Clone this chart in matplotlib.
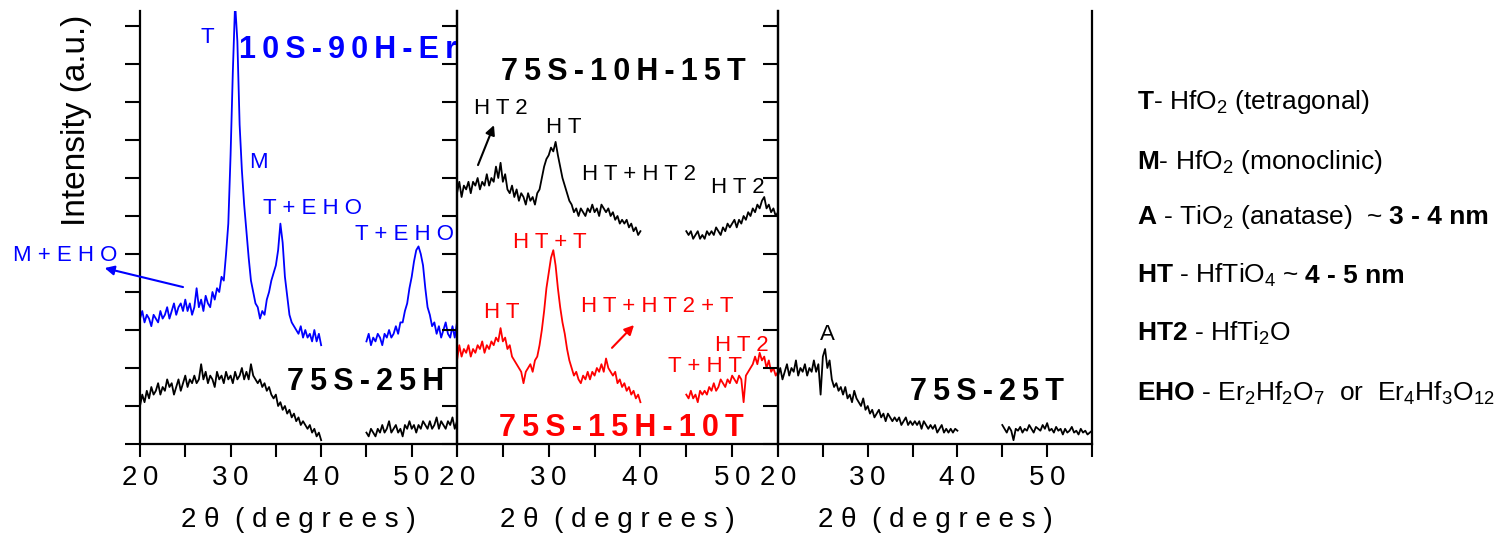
import numpy as np
import matplotlib.pyplot as plt

plt.rcParams['font.family'] = ['Liberation Sans', 'DejaVu Sans']
plt.rcParams['mathtext.fontset'] = 'custom'
plt.rcParams['mathtext.rm'] = 'Liberation Sans'
plt.rcParams['mathtext.bf'] = 'Liberation Sans:bold'
plt.rcParams['mathtext.default'] = 'regular'

# ---- data (arbitrary intensity units, 1 unit = 1 tick) ----
# sample 10S-90H-Er (blue), panel 1
er_lo = [3.3, 3.5, 3.2, 3.4, 3.3, 3.1, 3.4, 3.3, 3.2, 3.5, 3.3, 3.4, 3.6, 3.3, 3.5, 3.7,
         3.4, 3.6, 3.7, 3.5, 3.8, 3.5, 3.7, 3.4, 3.6, 4.1, 3.6, 3.8, 3.5, 3.9, 3.7, 3.6,
         4.0, 3.8, 4.1, 4.0, 4.4, 4.3, 5.0, 5.8, 7.6, 9.8, 11.6, 10.6, 8.4, 7.2, 6.3, 5.6,
         4.9, 4.3, 4.0, 3.7, 3.6, 3.3, 3.5, 3.4, 3.8, 4.0, 4.3, 4.5, 4.7, 5.1, 5.8, 5.3,
         4.4, 3.9, 3.4, 3.2, 3.1, 3.0, 2.9, 3.1, 2.8, 3.0, 2.8, 2.9, 2.7, 3.0, 2.7, 2.9, 2.6]
er_hi = [2.7, 2.9, 2.6, 2.8, 2.7, 2.9, 2.8, 2.6, 2.9, 2.8, 3.0, 2.8, 2.9, 3.1, 2.9, 3.2,
         3.2, 3.5, 3.7, 4.1, 4.4, 4.8, 5.1, 5.2, 5.0, 4.7, 4.1, 3.6, 3.4, 3.1, 3.2, 2.9,
         3.1, 2.8, 3.0, 3.2, 2.9, 2.8, 3.1, 2.8, 3.2]

# sample 75S-25H (black), panel 1
h25_lo = [1.0, 1.3, 1.1, 1.4, 1.2, 1.5, 1.3, 1.4, 1.6, 1.3, 1.5, 1.4, 1.7, 1.5, 1.6, 1.3,
          1.5, 1.7, 1.4, 1.6, 1.8, 1.5, 1.7, 1.6, 1.8, 1.6, 1.7, 2.1, 1.7, 1.9, 1.6, 1.8,
          1.7, 1.5, 1.9, 1.7, 1.8, 1.6, 1.9, 1.7, 1.8, 1.6, 1.9, 1.7, 1.8, 2.0, 1.7, 1.9,
          1.7, 2.1, 1.8, 1.7, 1.6, 1.7, 1.5, 1.6, 1.4, 1.5, 1.3, 1.2, 1.3, 1.0, 1.1, 0.9,
          1.0, 0.8, 0.9, 0.7, 0.8, 0.6, 0.7, 0.5, 0.6, 0.5, 0.4, 0.5, 0.3, 0.4, 0.2, 0.3, 0.1]
h25_hi = [0.3, 0.2, 0.4, 0.3, 0.2, 0.4, 0.3, 0.5, 0.3, 0.4, 0.6, 0.3, 0.4, 0.5, 0.3, 0.4,
          0.2, 0.5, 0.4, 0.6, 0.4, 0.5, 0.3, 0.5, 0.4, 0.6, 0.5, 0.4, 0.6, 0.4, 0.5, 0.7,
          0.4, 0.6, 0.5, 0.4, 0.6, 0.5, 0.7, 0.4, 0.6]

# sample 75S-10H-15T (black), panel 2
t15_lo = [6.6, 6.9, 6.5, 6.8, 6.7, 6.9, 6.6, 6.9, 6.8, 7.0, 6.7, 6.9, 6.8, 7.1, 6.8, 7.0,
          6.9, 7.3, 7.0, 7.4, 6.9, 7.1, 6.7, 6.6, 6.8, 6.5, 6.7, 6.4, 6.6, 6.5, 6.3, 6.6,
          6.4, 6.5, 6.3, 6.6, 6.7, 7.0, 7.3, 7.5, 7.6, 7.8, 7.7, 7.95, 7.6, 7.3, 7.0, 6.8,
          6.6, 6.4, 6.3, 6.1, 6.2, 6.0, 6.2, 6.1, 6.0, 6.2, 6.1, 6.3, 6.1, 6.2, 6.0, 6.3,
          6.2, 6.1, 6.2, 6.0, 6.1, 5.9, 6.0, 5.8, 5.9, 5.8, 5.9, 5.7, 5.8, 5.6, 5.7, 5.5, 5.6]
t15_hi = [5.6, 5.5, 5.6, 5.4, 5.5, 5.6, 5.4, 5.5, 5.4, 5.6, 5.5, 5.6, 5.5, 5.7, 5.6, 5.5,
          5.7, 5.6, 5.8, 5.7, 5.8, 5.9, 5.7, 5.9, 5.8, 6.0, 5.9, 6.1, 6.0, 6.2, 6.1, 6.3,
          6.2, 6.4, 6.5, 6.2, 6.3, 6.1, 6.2, 6.0, 6.1]

# sample 75S-15H-10T (red), panel 2
t10_lo = [2.2, 2.6, 2.3, 2.5, 2.4, 2.6, 2.3, 2.5, 2.4, 2.6, 2.5, 2.7, 2.4, 2.6, 2.5, 2.7,
          2.6, 2.8, 2.7, 3.05, 2.7, 2.8, 2.5, 2.6, 2.3, 2.2, 2.1, 2.0, 1.9, 1.6, 1.9, 2.0,
          2.1, 1.9, 2.2, 2.3, 2.6, 3.0, 3.5, 4.1, 4.5, 4.9, 5.1, 4.7, 4.1, 3.6, 3.2, 2.9,
          2.5, 2.2, 2.0, 1.8, 1.9, 1.7, 1.6, 1.8, 1.7, 1.9, 1.7, 1.9, 1.8, 2.0, 1.9, 2.1,
          1.9, 2.25, 2.0, 1.9, 1.8, 1.9, 1.6, 1.7, 1.5, 1.6, 1.4, 1.5, 1.3, 1.4, 1.2, 1.3, 1.1]
t10_hi = [1.3, 1.2, 1.4, 1.2, 1.3, 1.1, 1.4, 1.3, 1.4, 1.3, 1.5, 1.4, 1.6, 1.4, 1.5, 1.7,
          1.6, 1.5, 1.7, 1.6, 1.8, 1.7, 1.6, 1.8, 1.7, 1.1, 1.8, 1.9, 2.0, 2.1, 2.3, 2.1,
          2.4, 2.2, 2.3, 2.0, 2.2, 1.9, 2.0, 1.8, 1.9]

# sample 75S-25T (black), panel 3
t25_lo = [1.8, 2.0, 1.7, 1.9, 2.1, 1.8, 2.0, 1.9, 2.2, 1.8, 2.0, 1.9, 2.1, 1.8, 2.0, 1.9,
          2.2, 1.9, 2.1, 1.3, 2.3, 2.5, 2.0, 2.2, 1.7, 1.5, 1.6, 1.4, 1.5, 1.3, 1.5, 1.2,
          1.3, 1.1, 1.4, 1.2, 1.1, 1.0, 1.2, 0.9, 1.0, 0.8, 0.9, 0.7, 0.8, 0.9, 0.7, 0.8,
          0.6, 0.8, 0.7, 0.6, 0.7, 0.6, 0.7, 0.5, 0.6, 0.7, 0.5, 0.6, 0.5, 0.6, 0.5, 0.6,
          0.4, 0.6, 0.5, 0.4, 0.5, 0.4, 0.5, 0.3, 0.4, 0.5, 0.3, 0.4, 0.3, 0.4, 0.3, 0.4, 0.35]
t25_hi = [0.5, 0.4, 0.3, 0.45, 0.35, 0.1, 0.4, 0.35, 0.45, 0.3, 0.4, 0.35, 0.5, 0.4, 0.3,
          0.45, 0.4, 0.35, 0.5, 0.4, 0.55, 0.35, 0.4, 0.3, 0.45, 0.35, 0.4, 0.25, 0.4, 0.3,
          0.35, 0.45, 0.3, 0.35, 0.25, 0.4, 0.3, 0.35, 0.25, 0.3, 0.35]

tick_pos = [20, 25, 30, 35, 40, 45, 50, 55]
tick_txt = ['20', '', '30', '', '40', '', '50', '']

BLUE = '#0000ff'
RED = '#ff0000'
TS = '\u2009'  # thin space, the original uses wide letter spacing


def spaced(s, sep=TS):
    return sep.join(s)


W, H = 1504, 533
top, bot = 11, 444
panels = [(140, 457), (457, 778), (778, 1092)]

fig = plt.figure(figsize=(W / 100, H / 100), dpi=100)
axs = []
for l, r in panels:
    ax = fig.add_axes([l / W, 1 - bot / H, (r - l) / W, (bot - top) / H])
    ax.set_xlim(20, 55)
    ax.set_ylim(0, (bot - top) / 38)
    ax.set_yticks(range(12))
    ax.tick_params(axis='y', left=True, right=False, direction='out', length=11,
                   width=1.5, labelleft=False)
    ax.set_xticks(tick_pos)
    ax.set_xticklabels([spaced(t) for t in tick_txt])
    ax.tick_params(axis='x', direction='out', length=9, width=1.5, labelsize=20, pad=6)
    ax.spines['top'].set_visible(False)
    for s in ['left', 'right', 'bottom']:
        ax.spines[s].set_linewidth(1.6)
    ax.set_xlabel(spaced('2θ', ' ') + '  ' + spaced('(degrees)', ' '), fontsize=20)
    ax.xaxis.set_label_coords(0.5, -0.145)
    ax.patch.set_visible(False)
    axs.append(ax)

ax1, ax2, ax3 = axs


def draw(ax, lo, hi, color):
    ax.plot(np.linspace(20, 40, len(lo)), lo, color=color, lw=1.3)
    ax.plot(np.linspace(45, 55, len(hi)), hi, color=color, lw=1.3)


draw(ax1, er_lo, er_hi, BLUE)
draw(ax1, h25_lo, h25_hi, 'black')
draw(ax2, t15_lo, t15_hi, 'black')
draw(ax2, t10_lo, t10_hi, RED)
draw(ax3, t25_lo, t25_hi, 'black')

fig.text(77 / W, 1 - 120 / H, 'Intensity (a.u.)', rotation=90, ha='center',
         va='center', fontsize=24)


# panel titles and peak labels
def title(ax, x, y, s, c):
    ax.text(x, y, spaced(s), color=c, fontsize=22, fontweight='bold',
            ha='center', va='center', clip_on=False)


def note(ax, x, y, s, c):
    ax.text(x, y, ' '.join(s), color=c, fontsize=16, ha='center', va='center',
            clip_on=False)


def arrow(ax, tail, head, c):
    ax.annotate('', xy=head, xytext=tail, annotation_clip=False,
                arrowprops=dict(arrowstyle='-|>', color=c, lw=1.5, mutation_scale=14,
                                shrinkA=0, shrinkB=0))


title(ax1, 43.0, 10.37, '10S-90H-Er', BLUE)
title(ax1, 44.9, 1.63, '75S-25H', 'black')
note(ax1, 27.4, 10.7, 'T', BLUE)
note(ax1, 33.1, 7.42, 'M', BLUE)
note(ax1, 39.05, 6.21, 'T+EHO', BLUE)
note(ax1, 49.15, 5.5, 'T+EHO', BLUE)
note(ax1, 11.7, 4.97, 'M+EHO', BLUE)
arrow(ax1, (24.75, 4.13), (16.1, 4.63), BLUE)

title(ax2, 38.16, 9.79, '75S-10H-15T', 'black')
title(ax2, 37.94, 0.42, '75S-15H-10T', RED)
note(ax2, 24.74, 8.84, 'HT2', 'black')
arrow(ax2, (22.29, 7.34), (24.03, 8.39), 'black')
note(ax2, 31.6, 8.32, 'HT', 'black')
note(ax2, 39.8, 7.08, 'HT+HT2', 'black')
note(ax2, 50.6, 6.76, 'HT2', 'black')
note(ax2, 30.1, 5.29, 'HT+T', RED)
note(ax2, 24.85, 3.47, 'HT', RED)
note(ax2, 41.86, 3.61, 'HT+HT2+T', RED)
arrow(ax2, (36.9, 2.53), (39.3, 3.13), RED)
note(ax2, 51.0, 2.6, 'HT2', RED)
note(ax2, 47.04, 2.05, 'T+HT', RED)

note(ax3, 25.46, 2.87, 'A', 'black')
title(ax3, 43.3, 1.37, '75S-25T', 'black')

# phase key on the right
key = [r'$\mathbf{T}$- HfO$_2$ (tetragonal)',
       r'$\mathbf{M}$- HfO$_2$ (monoclinic)',
       r'$\mathbf{A}$ - TiO$_2$ (anatase)  ~',
       r'$\mathbf{HT}$ - HfTiO$_4$ ~',
       r'$\mathbf{HT2}$ - HfTi$_2$O',
       r'$\mathbf{EHO}$ - Er$_2$Hf$_2$O$_7$  or  Er$_4$Hf$_3$O$_{12}$']
key_bold = ['', '', '3 - 4 nm', '4 - 5 nm', '', '']
key_y = [109, 169, 224, 283, 341, 401]  # baselines

renderer = fig.canvas.get_renderer()
for s, b, y in zip(key, key_bold, key_y):
    t = fig.text(1137 / W, 1 - y / H, s, fontsize=19, ha='left', va='baseline')
    if b:
        x_end = t.get_window_extent(renderer).x1
        fig.text((x_end + 6) / W, 1 - y / H, b, fontsize=19, fontweight='bold',
                 ha='left', va='baseline')

fig.savefig('out.png', dpi=100)
